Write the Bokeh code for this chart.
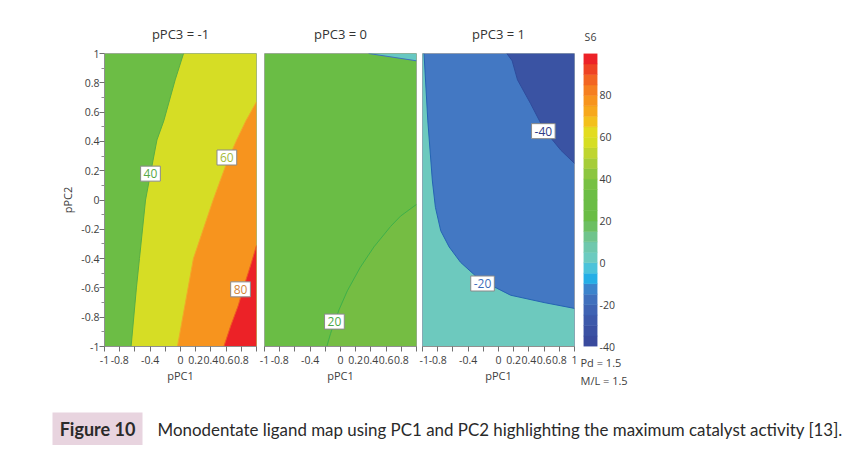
from bokeh.plotting import figure
from bokeh.layouts import row, column
from bokeh.models import Range1d, Label, FixedTicker, Title
from bokeh.embed import file_html
from bokeh.resources import INLINE

FONT = "Open Sans"
TXT = "#404040"

# ---------------- data ----------------
panel_titles = ["pPC3 = -1", "pPC3 = 0", "pPC3 = 1"]
x_label = "pPC1"
y_label = "pPC2"
cbar_title = "S6"
side_notes = ["Pd = 1.5", "M/L = 1.5"]

x_tick_values = [-1, -0.8, -0.6, -0.4, -0.2, 0, 0.2, 0.4, 0.6, 0.8, 1]
x_tick_labels = ["-1", "-0.8", "", "-0.4", "", "0", "0.2", "0.4", "0.6", "0.8", "1"]
y_tick_values = [-1, -0.8, -0.6, -0.4, -0.2, 0, 0.2, 0.4, 0.6, 0.8, 1]
y_tick_labels = ["-1", "-0.8", "-0.6", "-0.4", "-0.2", "0", "0.2", "0.4", "0.6", "0.8", "1"]
y_minor_ticks = [-0.9, -0.7, -0.5, -0.3, -0.1, 0.1, 0.3, 0.5, 0.7, 0.9]

# pPC3 = -1 : contour lines (pPC1, pPC2)
c40_x = [0.04, -0.07, -0.22, -0.31, -0.395, -0.46, -0.54, -0.58, -0.65]
c40_y = [1.0, 0.82, 0.54, 0.41, 0.18, 0.0, -0.4, -0.6, -1.0]
c60_x = [1.0, 0.86, 0.74, 0.62, 0.43, 0.30, 0.17, 0.10, 0.03, -0.04]
c60_y = [0.67, 0.54, 0.41, 0.27, 0.0, -0.2, -0.4, -0.6, -0.8, -1.0]
c80_x = [1.0, 0.92, 0.84, 0.76, 0.66, 0.57]
c80_y = [-0.31, -0.45, -0.58, -0.72, -0.86, -1.0]

# pPC3 = 0
c20_x = [1.0, 0.79, 0.66, 0.44, 0.26, 0.09, -0.02, -0.13, -0.18]
c20_y = [-0.03, -0.11, -0.18, -0.32, -0.46, -0.62, -0.75, -0.91, -1.0]
c0_x = [0.37, 1.0]
c0_y = [1.0, 0.95]

# pPC3 = 1
cm20_x = [-0.98, -0.93, -0.87, -0.83, -0.76, -0.65, -0.5, -0.33, -0.2, -0.03, 0.16, 0.6, 1.0]
cm20_y = [1.0, 0.54, 0.13, -0.05, -0.21, -0.32, -0.425, -0.505, -0.57, -0.6, -0.65, -0.70, -0.74]
cm40_x = [0.11, 0.18, 0.25, 0.42, 0.6, 0.82, 1.0]
cm40_y = [1.0, 0.95, 0.82, 0.66, 0.48, 0.34, 0.25]

# contour labels: panel index, x, y, text, colour
clab_panel = [0, 0, 0, 1, 2, 2]
clab_x = [-0.395, 0.61, 0.79, -0.08, 0.59, -0.21]
clab_y = [0.18, 0.29, -0.61, -0.83, 0.47, -0.57]
clab_text = ["40", "60", "80", "20", "-40", "-20"]
clab_color = ["#57a845", "#a3b93a", "#d3853a", "#4aa84a", "#2e3b87", "#3d6dbb"]

# colour bar bands
cb_levels = [-40, -35, -30, -25, -20, -15, -10, -5, 0, 5, 10, 15, 20, 25, 30,
             35, 40, 45, 50, 55, 60, 65, 70, 75, 80, 85, 90, 95, 100]
cb_colors = ["#394a9d", "#3b51a3", "#3d59aa", "#3f63b3", "#4070bd", "#3c84cc",
             "#25aee6", "#4cc3da", "#6ccbc0", "#6fc8ad", "#6fc48c", "#6cbf62",
             "#6abd45", "#6abd45", "#6cbe45", "#78c143", "#8cc63f", "#a6cd38",
             "#bfd530", "#d6de23", "#e3dc20", "#f3c01c", "#f7a81c", "#f7941d",
             "#f57f20", "#f26522", "#ee4323", "#ec2227"]
cb_ticks = [-40, -20, 0, 20, 40, 60, 80]
cb_tick_labels = ["-40", "-20", "0", "20", "40", "60", "80"]

caption_tag = "Figure 10"
caption_text = "Monodentate ligand map using PC1 and PC2 highlighting the maximum catalyst activity [13]."

# ---------------- figures ----------------
FRAME_W, FRAME_H = 152, 293
TOP, BOTTOM = 53, 52


def make_panel(title, bl, br, show_y, last):
    p = figure(width=bl + FRAME_W + br, height=TOP + FRAME_H + BOTTOM,
               x_range=Range1d(-1, 1), y_range=Range1d(-1, 1),
               y_axis_location="left" if show_y else None,
               output_backend="svg", toolbar_location=None, title=title,
               min_border_left=bl, min_border_right=br,
               min_border_top=TOP, min_border_bottom=BOTTOM)
    p.title.align = "center"
    p.title.offset = 3
    p.title.text_font = FONT
    p.title.text_font_size = "13px"
    p.title.text_font_style = "normal"
    p.title.text_color = "#333333"
    p.title.standoff = 22
    p.grid.visible = False
    p.outline_line_color = "#a8a8a8"
    p.background_fill_color = "white"
    p.border_fill_color = "white"

    labels = list(x_tick_labels)
    if not last:
        labels[-1] = ""
    xa = p.xaxis[0]
    xa.ticker = FixedTicker(ticks=x_tick_values)
    xa.major_label_overrides = dict(zip(x_tick_values, labels))
    xa.major_tick_out = 5
    xa.major_tick_in = 0
    xa.minor_tick_out = 0
    xa.major_label_standoff = 4
    xa.axis_line_color = "#909090"
    xa.major_tick_line_color = "#707070"
    xa.major_label_text_font = FONT
    xa.major_label_text_font_size = "10.5px"
    xa.major_label_text_color = TXT
    xa.axis_label = x_label
    xa.axis_label_text_font = FONT
    xa.axis_label_text_font_size = "11px"
    xa.axis_label_text_font_style = "normal"
    xa.axis_label_text_color = TXT
    xa.axis_label_standoff = 1
    if show_y:
        ya = p.yaxis[0]
        ya.ticker = FixedTicker(ticks=y_tick_values, minor_ticks=y_minor_ticks)
        ya.major_label_overrides = dict(zip(y_tick_values, y_tick_labels))
        ya.major_tick_out = 5
        ya.major_tick_in = 0
        ya.minor_tick_out = 3
        ya.minor_tick_in = 0
        ya.major_label_standoff = 0
        ya.axis_line_color = "#909090"
        ya.major_tick_line_color = "#707070"
        ya.minor_tick_line_color = "#909090"
        ya.major_label_text_font = FONT
        ya.major_label_text_font_size = "10.5px"
        ya.major_label_text_color = TXT
        ya.axis_label = y_label
        ya.axis_label_text_font = FONT
        ya.axis_label_text_font_size = "11px"
        ya.axis_label_text_font_style = "normal"
        ya.axis_label_text_color = TXT
        ya.axis_label_standoff = 3
    return p


p1 = make_panel(panel_titles[0], 104, 2, True, False)
p2 = make_panel(panel_titles[1], 6, 3, False, False)
p3 = make_panel(panel_titles[2], 3, 4, False, True)
panels = [p1, p2, p3]

# panel 1: pPC3 = -1
p1.quad(left=-1, right=1, bottom=-1, top=1, fill_color="#6cbd45", line_color=None)
p1.patch(c40_x + [1, 1], c40_y + [-1, 1], fill_color="#d6dd25", line_color=None)
p1.patch(c60_x + [1], c60_y + [-1], fill_color="#f7941e", line_color=None)
p1.patch(c80_x + [1], c80_y + [-1], fill_color="#ec2227", line_color=None)
p1.line(c40_x, c40_y, line_color="#58ad46", line_width=1)
p1.line(c60_x, c60_y, line_color="#f0a92a", line_width=1)
p1.line(c80_x, c80_y, line_color="#ef5a24", line_width=1)

# panel 2: pPC3 = 0
p2.quad(left=-1, right=1, bottom=-1, top=1, fill_color="#6abd45", line_color=None)
p2.patch(c20_x + [1], c20_y + [-1], fill_color="#75bd43", line_color=None)
p2.patch(c0_x + [1], c0_y + [1], fill_color="#66c8c2", line_color=None)
p2.line(c20_x, c20_y, line_color="#3faf4a", line_width=1)
p2.line(c0_x, c0_y, line_color="#3f70bf", line_width=1)

# panel 3: pPC3 = 1
p3.quad(left=-1, right=1, bottom=-1, top=1, fill_color="#4378c3", line_color=None)
p3.patch(cm40_x + [1], cm40_y + [1], fill_color="#3a53a3", line_color=None)
p3.patch(cm20_x + [1, -1, -1], cm20_y + [-1, -1, 1], fill_color="#6dc9be", line_color=None)
p3.line(cm20_x, cm20_y, line_color="#2563b3", line_width=1)
p3.line(cm40_x, cm40_y, line_color="#2f4c9c", line_width=1)

for i in range(len(clab_text)):
    panels[clab_panel[i]].add_layout(Label(
        x=clab_x[i], y=clab_y[i], text=clab_text[i], text_align="center",
        text_baseline="middle", text_font=FONT, text_font_size="12px",
        text_color=clab_color[i], background_fill_color="white",
        border_line_color="#8a8a8a", border_line_width=1, padding=3))

# colour bar
CB_TOP = 48
cb = figure(width=5 + 14 + 63, height=CB_TOP + 298 + BOTTOM,
            x_range=Range1d(0, 1), y_range=Range1d(-40, 100),
            y_axis_location="right", x_axis_location=None,
            output_backend="svg", toolbar_location=None, title=cbar_title,
            min_border_left=5, min_border_right=63,
            min_border_top=CB_TOP, min_border_bottom=BOTTOM)
cb.grid.visible = False
cb.outline_line_color = None
cb.title.align = "center"
cb.title.text_font = FONT
cb.title.text_font_size = "10.5px"
cb.title.text_font_style = "normal"
cb.title.text_color = TXT
cb.title.standoff = 20
cb.quad(left=0, right=1, bottom=cb_levels[:-1], top=cb_levels[1:],
        fill_color=cb_colors, line_color=cb_colors, line_width=0.5)
ca = cb.yaxis[0]
ca.ticker = FixedTicker(ticks=cb_ticks)
ca.major_label_overrides = dict(zip(cb_ticks, cb_tick_labels))
ca.major_tick_out = 0
ca.major_tick_in = 0
ca.minor_tick_out = 0
ca.axis_line_color = None
ca.major_label_standoff = 2
ca.major_label_text_font = FONT
ca.major_label_text_font_size = "10.5px"
ca.major_label_text_color = TXT
cb.add_layout(Title(text="\n".join(side_notes), align="left", offset=-3,
                    standoff=12, text_font=FONT, text_font_size="11px",
                    text_font_style="normal", text_color=TXT,
                    text_line_height=1.2), "below")

# caption
cap = figure(width=852, height=47, x_range=Range1d(0, 852), y_range=Range1d(47, 0),
             x_axis_location=None, y_axis_location=None, min_border=0,
             output_backend="svg", toolbar_location=None)
cap.grid.visible = False
cap.outline_line_color = None
cap.quad(left=52, right=142, top=14, bottom=47, fill_color="#e8d4df", line_color=None)
cap.add_layout(Label(x=97, y=30.5, text=caption_tag, text_align="center",
                     text_baseline="middle", text_font="Lato", text_font_size="18px",
                     text_font_style="bold", text_color="#2a2a2a"))
cap.add_layout(Label(x=157, y=30.5, text=caption_text, text_align="left",
                     text_baseline="middle", text_font="Lato", text_font_size="16.9px",
                     text_color="#2a2a2a"))

layout = column(row(p1, p2, p3, cb), cap)
open("out.html", "w").write(file_html(layout, INLINE))
